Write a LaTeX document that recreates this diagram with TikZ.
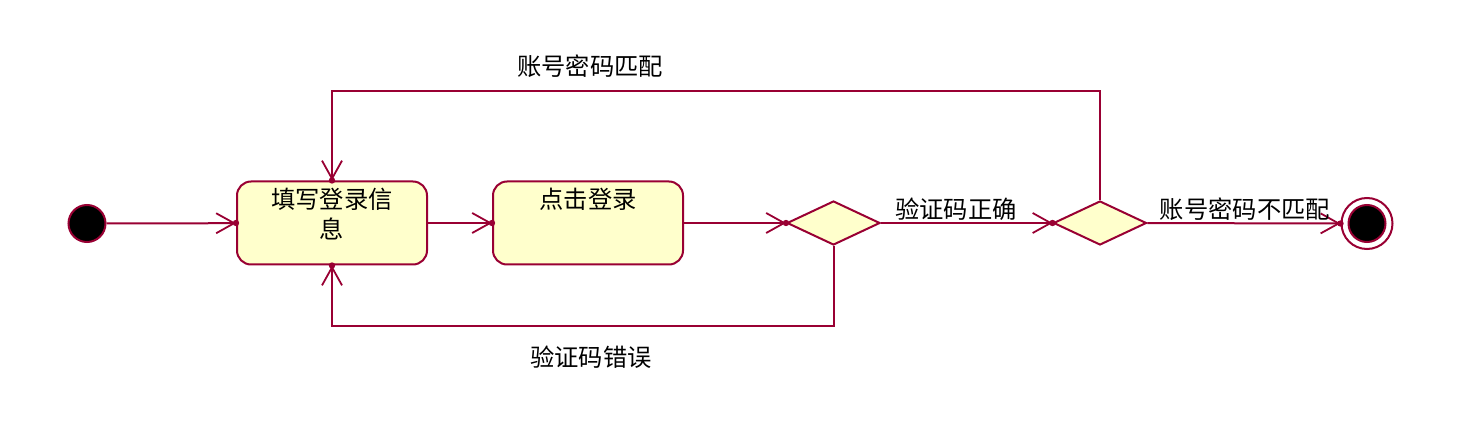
\documentclass[tikz,border=0pt]{standalone}
\usepackage{fontspec}
\newfontfamily\cjk{Noto Sans CJK SC}
\usetikzlibrary{arrows.meta,shapes.geometric}
\definecolor{umlred}{HTML}{990033}
\definecolor{umlfill}{HTML}{FFFFCC}
\begin{document}
\begin{tikzpicture}[x=1pt,y=-1pt,
  line/.style={draw=umlred,line width=2pt},
  flow/.style={line,-{Straight Barb[length=18pt,width=20pt,line width=1.8pt]}},
  tipdot/.style={fill=umlred},
  stepbox/.style={draw=umlred,fill=umlfill,line width=2pt,rounded corners=14pt,minimum width=190pt,minimum height=83pt,inner sep=0pt},
  choice/.style={diamond,draw=umlred,fill=umlfill,line width=2pt,minimum width=93pt,minimum height=44pt,inner sep=0pt},
  lbl/.style={font=\cjk\fontsize{24.3}{30}\selectfont,inner sep=0pt}]
\useasboundingbox (0,0) rectangle (1468,430);
\fill[white] (0,0) rectangle (1468,430);

\node[circle,fill=black,draw=umlred,line width=2pt,minimum size=37pt,inner sep=0pt] (start) at (87,223.5) {};
\node[stepbox] (b1) at (332,223) {};
\node[stepbox] (b2) at (588,223) {};
\node[choice] (d1) at (833.5,223) {};
\node[choice] (d2) at (1100,223) {};
\node[circle,draw=umlred,line width=2pt,minimum size=51pt,inner sep=0pt] (final) at (1367,223.5) {};
\node[circle,fill=black,draw=umlred,line width=2pt,minimum size=37pt,inner sep=0pt] (finalin) at (1367,223.5) {};

\node[lbl,align=center,anchor=north] (t1) at ([yshift=-7pt]b1.north) {填写登录信\\息};
\node[lbl,anchor=north] (t2) at ([yshift=-7pt]b2.north) {点击登录};

\coordinate (topy) at (0,91);
\coordinate (boty) at (0,326);

\draw[flow] (start) -- (b1);
\draw[flow] (b1) -- (b2);
\draw[flow] (b2) -- (d1);
\draw[flow] (d1) -- (d2);
\draw[flow] (d2) -- (final);
\draw[flow] (d2.north) -- (d2.north |- topy) -| (b1.north);
\draw[flow] (d1.south) -- (d1.south |- boty) -| (b1.south);

\node[lbl] (l1) at (956,209) {验证码正确};
\node[lbl] (l2) at (1245,209) {账号密码不匹配};
\node[lbl] (l3) at (590,66) {账号密码匹配};
\node[lbl] (l4) at (591,357) {验证码错误};

\foreach \p in {b1.west,b2.west,d1.west,d2.west,final.west,b1.north,b1.south}
  \fill[tipdot] (\p) circle (3.2pt);
\end{tikzpicture}
\end{document}
